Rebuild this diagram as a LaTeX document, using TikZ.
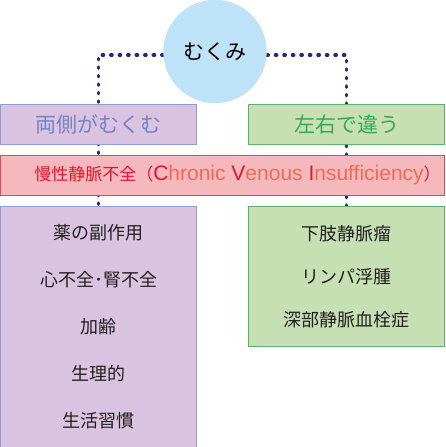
\documentclass[tikz,border=0pt]{standalone}
\usepackage{fontspec}
\setmainfont{Noto Sans CJK JP}
\newfontfamily\latinfont{Liberation Sans}
\usetikzlibrary{positioning,backgrounds}
\definecolor{skyblue}{HTML}{BEE3F8}
\definecolor{lavender}{HTML}{D9C3E0}
\definecolor{lavborder}{HTML}{8E9DD5}
\definecolor{lavtext}{HTML}{7683C4}
\definecolor{leaf}{HTML}{C6E0B3}
\definecolor{leafborder}{HTML}{5CB36E}
\definecolor{leaftext}{HTML}{3BA55A}
\definecolor{pinkbar}{HTML}{F5B8BC}
\definecolor{pinkborder}{HTML}{E9435E}
\definecolor{cvired}{HTML}{E6142B}
\definecolor{cvisalmon}{HTML}{EE6C55}
\definecolor{navydot}{HTML}{1C2A80}
\definecolor{itemtext}{HTML}{231F20}

\begin{document}
\begin{tikzpicture}[
			x=1pt, y=1pt,
			node distance=10.5pt,
			box/.style={rectangle, draw, line width=1pt, inner sep=0pt, minimum height=39.5pt},
			dotline/.style={draw=navydot, line width=3.3pt, line cap=round, dash pattern=on 1.4pt off 7.1pt}
			]
			\useasboundingbox (0,0) rectangle (445,-447);
			
			\node[circle, fill=skyblue, minimum size=103.4pt, inner sep=0pt, font=\fontsize{21pt}{21pt}\selectfont] (mukumi) at (215,-51.5) {むくみ};
			\node[box] (both) [anchor=north west, fill=lavender, draw=lavborder, text=lavtext, minimum width=196pt, font=\fontsize{21pt}{21pt}\selectfont] at (0,-104) {両側がむくむ};
			\node[box] (diff) [anchor=north east, fill=leaf, draw=leafborder, text=leaftext, minimum width=196pt, font=\fontsize{21pt}{21pt}\selectfont] at (445,-104) {左右で違う};
			\node[box] (cvi) [below right=10.5pt and 0pt of both.south west, fill=pinkbar, draw=pinkborder, text=cvired, minimum width=444pt, font=\fontsize{17pt}{17pt}\selectfont] {\hspace*{30pt}慢性静脈不全（{\latinfont\fontsize{21pt}{21pt}\selectfont C\textcolor{cvisalmon}{hronic} V\textcolor{cvisalmon}{enous} I\textcolor{cvisalmon}{nsufficiency}}）};
			\node[box] (causes) [below right=10.5pt and 0pt of cvi.south west, fill=lavender, draw=lavborder, text=itemtext, minimum width=196pt, minimum height=241pt, align=center, font=\fontsize{18pt}{47pt}\selectfont] {薬の副作用\\心不全･腎不全\\加齢\\生理的\\生活習慣};
			\node[box] (diseases) [below left=10.5pt and 0pt of cvi.south east, fill=leaf, draw=leafborder, text=itemtext, minimum width=196pt, minimum height=140pt, align=center, font=\fontsize{18pt}{43pt}\selectfont] {下肢静脈瘤\\リンパ浮腫\\深部静脈血栓症};
			
			\begin{scope}[on background layer]
				\draw[dotline] ([yshift=-3.5pt]mukumi.west) -| (causes.north);
				\draw[dotline] ([yshift=-3.5pt]mukumi.east) -| (diseases.north);
			\end{scope}
		\end{tikzpicture}
\end{document}
